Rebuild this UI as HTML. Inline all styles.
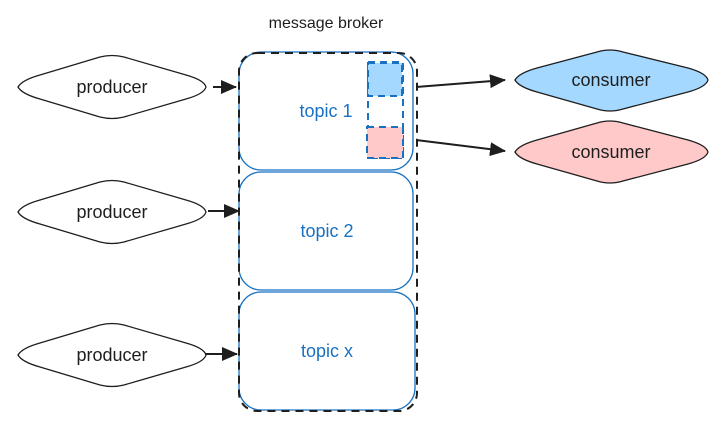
<!DOCTYPE html>
<html><head><meta charset="utf-8"><style>
html,body{margin:0;padding:0;background:#fff;}
svg text{font-family:"Comic Sans MS","Liberation Sans",sans-serif;}
</style></head><body>
<svg width="722" height="421" viewBox="0 0 722 421" xmlns="http://www.w3.org/2000/svg">
<defs><marker id="a" markerWidth="16" markerHeight="14" refX="15" refY="7" orient="auto" markerUnits="userSpaceOnUse"><path d="M0,0 L16,7 L0,14 z" fill="#1e1e1e"/></marker></defs>
<text x="326" y="28" font-size="16" fill="#1e1e1e" text-anchor="middle">message broker</text>
<g fill="#fff" stroke="#1e1e1e" stroke-width="1.3">
<path d="M18,87 Q22,80 40,75 L100,57 Q112,54 124,57 L186,75 Q204,80 206,87 Q204,94 186,99 L124,117 Q112,120 100,117 L40,99 Q22,94 18,87Z"/>
<path d="M18,212 Q22,205 40,200 L100,182 Q112,179 124,182 L186,200 Q204,205 206,212 Q204,219 186,224 L124,242 Q112,245 100,242 L40,224 Q22,219 18,212Z"/>
<path d="M18,355 Q22,348 40,343 L100,325 Q112,322 124,325 L186,343 Q204,348 206,355 Q204,362 186,367 L124,385 Q112,388 100,385 L40,367 Q22,362 18,355Z"/>
<path fill="#a5d8ff" d="M515,80 Q519,73 537,68 L597,52 Q610,48 623,52 L688,68 Q706,73 708,80 Q706,87 688,92 L623,109 Q610,113 597,109 L537,92 Q519,87 515,80Z"/>
<path fill="#ffc9c9" d="M515,152 Q519,145 537,140 L597,123 Q610,119 623,123 L688,140 Q706,145 708,152 Q706,159 688,164 L623,181 Q610,185 597,181 L537,164 Q519,159 515,152Z"/>
</g>
<g font-size="18" fill="#1e1e1e" text-anchor="middle">
<text x="112" y="93">producer</text><text x="112" y="218">producer</text><text x="112" y="361">producer</text>
<text x="611" y="86">consumer</text><text x="611" y="158">consumer</text>
</g>
<g fill="#fff" stroke="#1971c2" stroke-width="1.3">
<rect x="239" y="52" width="174" height="118" rx="22"/>
<rect x="239" y="172" width="174" height="118" rx="22"/>
<rect x="239" y="292" width="176" height="118" rx="22"/>
</g>
<rect x="239" y="53" width="178" height="358" rx="18" fill="none" stroke="#1e1e1e" stroke-width="2" stroke-dasharray="8 6"/>
<g stroke="#1971c2" stroke-width="2" stroke-dasharray="7 5">
<rect x="368" y="62" width="35" height="96" fill="none"/>
<rect x="368" y="63" width="34" height="33" fill="#a5d8ff"/>
<rect x="367" y="127" width="36" height="31" fill="#ffc9c9"/>
</g>
<g font-size="18" fill="#1971c2" text-anchor="middle">
<text x="326" y="117">topic 1</text><text x="327" y="237">topic 2</text><text x="327" y="357">topic x</text>
</g>
<g stroke="#1e1e1e" stroke-width="2" marker-end="url(#a)">
<line x1="213" y1="87" x2="236" y2="87"/>
<line x1="208" y1="211" x2="239" y2="211"/>
<line x1="205" y1="354" x2="237" y2="354"/>
<line x1="416" y1="87" x2="505" y2="80"/>
<line x1="416" y1="140" x2="505" y2="151"/>
</g>
</svg>
</body></html>
